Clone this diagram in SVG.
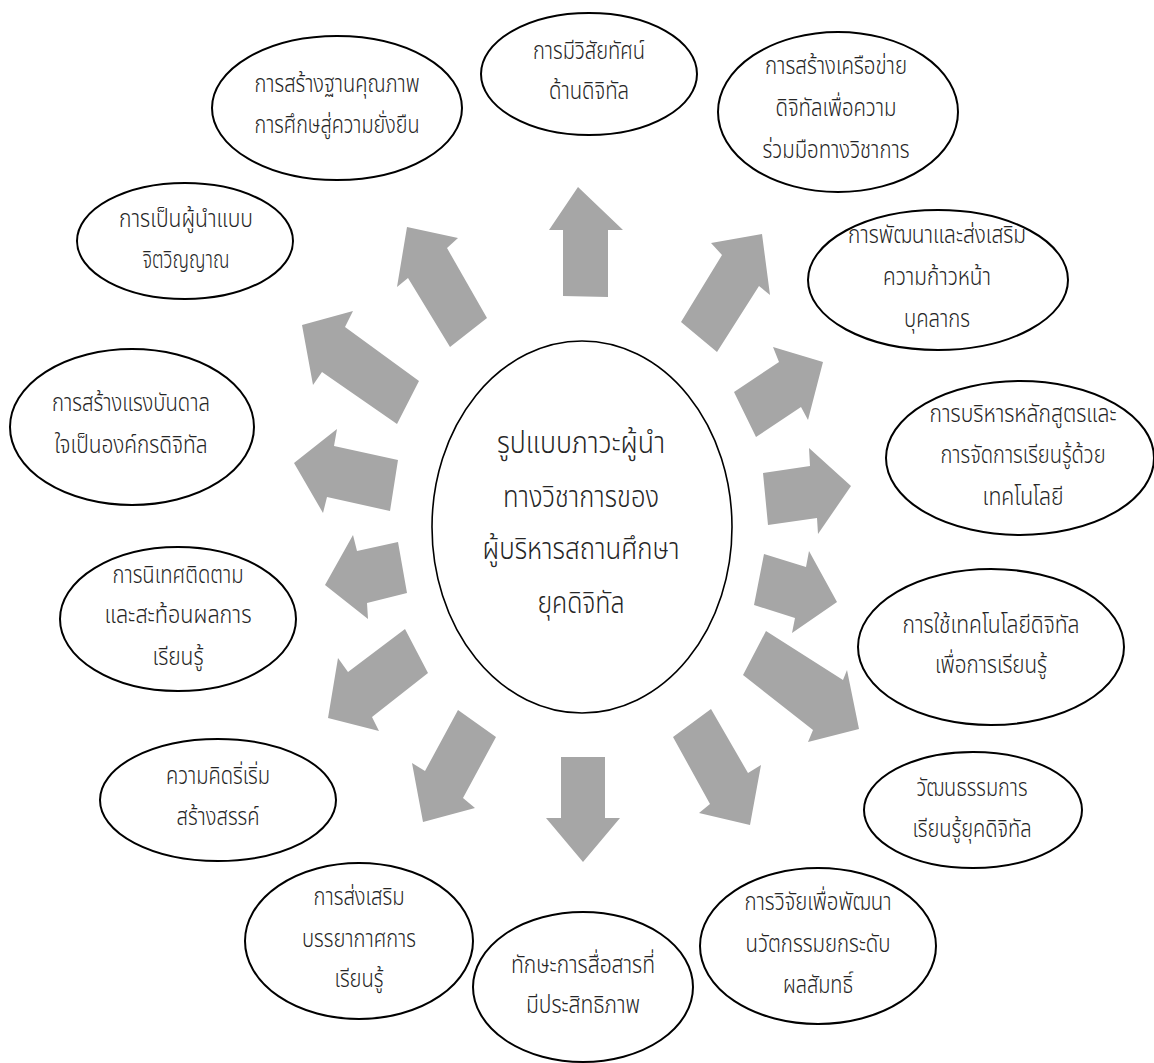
<svg xmlns="http://www.w3.org/2000/svg" width="1154" height="1063" viewBox="0 0 1154 1063">
<style>
.bg{fill:#ffffff}
.arr{fill:#a6a6a6;stroke:none}
.el{fill:#ffffff;stroke:#000000;stroke-width:2}
.ce{fill:#ffffff;stroke:#000000;stroke-width:1.6}
.t{font-family:"Noto Sans Thai","Noto Sans","DejaVu Sans",sans-serif;font-size:24px;font-weight:300;fill:#262626;text-anchor:middle}
.tc{font-family:"Noto Sans Thai","Noto Sans","DejaVu Sans",sans-serif;font-size:30px;font-weight:300;fill:#262626;text-anchor:middle}
</style>
<rect class="bg" x="0" y="0" width="1154" height="1063"/>
<g id="connectors">
<polygon class="arr" points="563,296 608,297 608,230 623,230 578,187 549,230 563,230"/>
<polygon class="arr" points="681,322 722,255 711,243 762,234 770,295 759,286 717,352"/>
<polygon class="arr" points="734,392 779,362 773,347 823,362 808,420 801,407 756,437"/>
<polygon class="arr" points="763,473 810,466 809,448 851,486 818,534 817,518 768,525"/>
<polygon class="arr" points="764,554 806,567 809,551 837,602 792,633 795,618 754,605"/>
<polygon class="arr" points="766,631 843,680 847,670 859,729 808,742 813,730 743,675"/>
<polygon class="arr" points="673,737 711,709 748,773 761,765 750,825 699,813 710,804"/>
<polygon class="arr" points="561,757 605,757 605,818 620,818 583,862 546,818 561,818"/>
<polygon class="arr" points="458,710 496,737 463,798 475,808 423,822 412,763 425,771"/>
<polygon class="arr" points="405,629 428,673 372,717 379,731 328,718 338,658 348,672"/>
<polygon class="arr" points="398,542 407,593 367,603 368,619 325,585 353,535 357,551"/>
<polygon class="arr" points="398,460 390,511 327,497 323,513 294,463 337,429 334,446"/>
<polygon class="arr" points="419,381 397,424 322,372 313,385 302,325 353,311 345,327"/>
<polygon class="arr" points="487,318 450,347 408,278 397,287 407,227 458,238 447,248"/>
</g>
<g id="center">
<ellipse class="ce" cx="582" cy="527" rx="150" ry="186"/>
<text class="tc" x="581" y="453" textLength="168" lengthAdjust="spacingAndGlyphs">รูปแบบภาวะผู้นำ</text>
<text class="tc" x="581" y="507" textLength="156" lengthAdjust="spacingAndGlyphs">ทางวิชาการของ</text>
<text class="tc" x="581" y="559" textLength="197" lengthAdjust="spacingAndGlyphs">ผู้บริหารสถานศึกษา</text>
<text class="tc" x="581" y="613" textLength="87" lengthAdjust="spacingAndGlyphs">ยุคดิจิทัล</text>
</g>
<g id="n-quality">
<ellipse class="el" cx="337" cy="108" rx="125" ry="72"/>
<text class="t" x="337" y="92" textLength="165" lengthAdjust="spacingAndGlyphs">การสร้างฐานคุณภาพ</text>
<text class="t" x="337" y="133" textLength="165" lengthAdjust="spacingAndGlyphs">การศึกษสู่ความยั่งยืน</text>
</g>
<g id="n-vision">
<ellipse class="el" cx="589" cy="74" rx="108" ry="61"/>
<text class="t" x="589" y="59" textLength="112" lengthAdjust="spacingAndGlyphs">การมีวิสัยทัศน์</text>
<text class="t" x="589" y="99" textLength="80" lengthAdjust="spacingAndGlyphs">ด้านดิจิทัล</text>
</g>
<g id="n-network">
<ellipse class="el" cx="838" cy="112" rx="120" ry="80"/>
<text class="t" x="836" y="74" textLength="142" lengthAdjust="spacingAndGlyphs">การสร้างเครือข่าย</text>
<text class="t" x="836" y="116" textLength="121" lengthAdjust="spacingAndGlyphs">ดิจิทัลเพื่อความ</text>
<text class="t" x="836" y="158" textLength="147" lengthAdjust="spacingAndGlyphs">ร่วมมือทางวิชาการ</text>
</g>
<g id="n-develop">
<ellipse class="el" cx="938" cy="280" rx="130" ry="70"/>
<text class="t" x="937" y="243" textLength="178" lengthAdjust="spacingAndGlyphs">การพัฒนาและส่งเสริม</text>
<text class="t" x="937" y="285" textLength="108" lengthAdjust="spacingAndGlyphs">ความก้าวหน้า</text>
<text class="t" x="937" y="327" textLength="66" lengthAdjust="spacingAndGlyphs">บุคลากร</text>
</g>
<g id="n-curriculum">
<ellipse class="el" cx="1020" cy="458" rx="134" ry="77"/>
<text class="t" x="1023" y="422" textLength="187" lengthAdjust="spacingAndGlyphs">การบริหารหลักสูตรและ</text>
<text class="t" x="1023" y="463" textLength="165" lengthAdjust="spacingAndGlyphs">การจัดการเรียนรู้ด้วย</text>
<text class="t" x="1023" y="505" textLength="81" lengthAdjust="spacingAndGlyphs">เทคโนโลยี</text>
</g>
<g id="n-tech">
<ellipse class="el" cx="991" cy="647" rx="133" ry="78"/>
<text class="t" x="991" y="633" textLength="177" lengthAdjust="spacingAndGlyphs">การใช้เทคโนโลยีดิจิทัล</text>
<text class="t" x="991" y="673" textLength="112" lengthAdjust="spacingAndGlyphs">เพื่อการเรียนรู้</text>
</g>
<g id="n-culture">
<ellipse class="el" cx="973" cy="810" rx="109" ry="58"/>
<text class="t" x="972" y="796" textLength="111" lengthAdjust="spacingAndGlyphs">วัฒนธรรมการ</text>
<text class="t" x="972" y="837" textLength="119" lengthAdjust="spacingAndGlyphs">เรียนรู้ยุคดิจิทัล</text>
</g>
<g id="n-research">
<ellipse class="el" cx="818" cy="946" rx="118" ry="78"/>
<text class="t" x="818" y="910" textLength="147" lengthAdjust="spacingAndGlyphs">การวิจัยเพื่อพัฒนา</text>
<text class="t" x="818" y="952" textLength="145" lengthAdjust="spacingAndGlyphs">นวัตกรรมยกระดับ</text>
<text class="t" x="818" y="993" textLength="70" lengthAdjust="spacingAndGlyphs">ผลสัมทธิ์</text>
</g>
<g id="n-communication">
<ellipse class="el" cx="583" cy="987" rx="110" ry="75"/>
<text class="t" x="583" y="973" textLength="144" lengthAdjust="spacingAndGlyphs">ทักษะการสื่อสารที่</text>
<text class="t" x="583" y="1013" textLength="114" lengthAdjust="spacingAndGlyphs">มีประสิทธิภาพ</text>
</g>
<g id="n-atmosphere">
<ellipse class="el" cx="359" cy="941" rx="114" ry="78"/>
<text class="t" x="359" y="905" textLength="91" lengthAdjust="spacingAndGlyphs">การส่งเสริม</text>
<text class="t" x="359" y="947" textLength="114" lengthAdjust="spacingAndGlyphs">บรรยากาศการ</text>
<text class="t" x="359" y="987" textLength="49" lengthAdjust="spacingAndGlyphs">เรียนรู้</text>
</g>
<g id="n-creative">
<ellipse class="el" cx="218" cy="800" rx="118" ry="61"/>
<text class="t" x="218" y="784" textLength="104" lengthAdjust="spacingAndGlyphs">ความคิดริ่เริ่ม</text>
<text class="t" x="218" y="825" textLength="83" lengthAdjust="spacingAndGlyphs">สร้างสรรค์</text>
</g>
<g id="n-supervision">
<ellipse class="el" cx="178" cy="619" rx="118" ry="72"/>
<text class="t" x="178" y="583" textLength="131" lengthAdjust="spacingAndGlyphs">การนิเทศติดตาม</text>
<text class="t" x="178" y="623" textLength="147" lengthAdjust="spacingAndGlyphs">และสะท้อนผลการ</text>
<text class="t" x="178" y="665" textLength="51" lengthAdjust="spacingAndGlyphs">เรียนรู้</text>
</g>
<g id="n-inspiration">
<ellipse class="el" cx="132" cy="427" rx="122" ry="78"/>
<text class="t" x="131" y="411" textLength="158" lengthAdjust="spacingAndGlyphs">การสร้างแรงบันดาล</text>
<text class="t" x="131" y="453" textLength="153" lengthAdjust="spacingAndGlyphs">ใจเป็นองค์กรดิจิทัล</text>
</g>
<g id="n-spiritual">
<ellipse class="el" cx="185" cy="241" rx="108" ry="58"/>
<text class="t" x="186" y="227" textLength="134" lengthAdjust="spacingAndGlyphs">การเป็นผู้นำแบบ</text>
<text class="t" x="186" y="268" textLength="87" lengthAdjust="spacingAndGlyphs">จิตวิญญาณ</text>
</g>
</svg>
